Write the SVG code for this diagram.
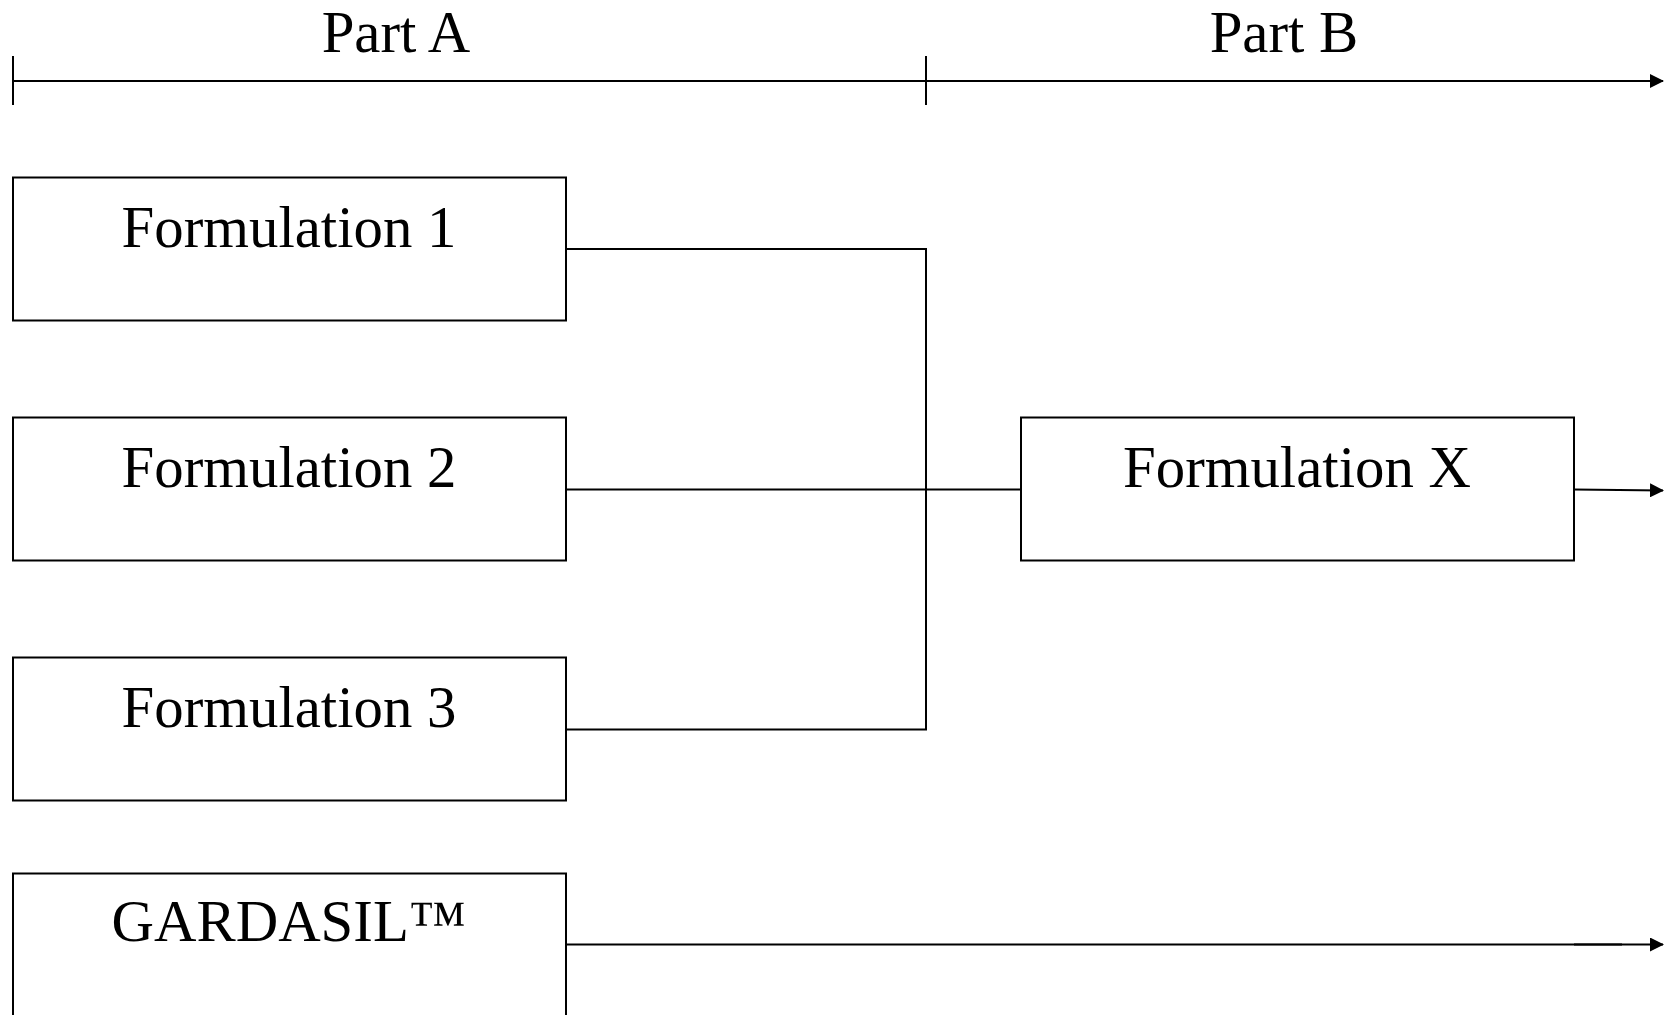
<svg xmlns="http://www.w3.org/2000/svg" width="1664" height="1015" viewBox="0 0 1664 1015">
<style>
  .box { fill: #fff; stroke: #000; stroke-width: 2; }
  .lbl { font-family: "Liberation Serif", "Times New Roman", serif; font-size: 58.8px; fill: #000; text-anchor: middle; }
  .ln { stroke: #000; stroke-width: 2; fill: none; }
</style>
<defs>
  <marker id="arr" markerWidth="14" markerHeight="14" refX="13" refY="7" orient="auto" markerUnits="userSpaceOnUse">
    <path d="M0,0 L14,7 L0,14 Z" fill="#000"/>
  </marker>
</defs>
<rect width="1664" height="1015" fill="#fff"/>
<g id="timeline">
  <line class="ln" x1="13" y1="81" x2="1663" y2="81" marker-end="url(#arr)"/>
  <line class="ln" x1="13" y1="56" x2="13" y2="105" stroke-width="1.5"/>
  <line class="ln" x1="926" y1="56" x2="926" y2="105" stroke-width="1.5"/>
  <text class="lbl" x="396" y="52">Part A</text>
  <text class="lbl" x="1284" y="52">Part B</text>
</g>
<g id="connectors">
  <polyline class="ln" points="566,249 926,249 926,729.5 566,729.5"/>
  <line class="ln" x1="566" y1="489.5" x2="1021" y2="489.5"/>
  <line class="ln" x1="1574" y1="489.5" x2="1663" y2="490.5" marker-end="url(#arr)"/>
  <line class="ln" x1="566" y1="944.5" x2="1663" y2="944.5" marker-end="url(#arr)"/>
  <line class="ln" x1="1574" y1="944.5" x2="1622" y2="944.5" stroke-width="2.6"/>
</g>
<g id="f1">
  <rect class="box" x="13" y="177.5" width="553" height="143"/>
  <text class="lbl" x="289" y="247">Formulation 1</text>
</g>
<g id="f2">
  <rect class="box" x="13" y="417.5" width="553" height="143"/>
  <text class="lbl" x="289" y="487">Formulation 2</text>
</g>
<g id="f3">
  <rect class="box" x="13" y="657.5" width="553" height="143"/>
  <text class="lbl" x="289" y="727">Formulation 3</text>
</g>
<g id="gardasil">
  <rect class="box" x="13" y="873.5" width="553" height="160"/>
  <text class="lbl" x="289" y="941">GARDASIL™</text>
</g>
<g id="fx">
  <rect class="box" x="1021" y="417.5" width="553" height="143"/>
  <text class="lbl" x="1297" y="487">Formulation X</text>
</g>
</svg>
